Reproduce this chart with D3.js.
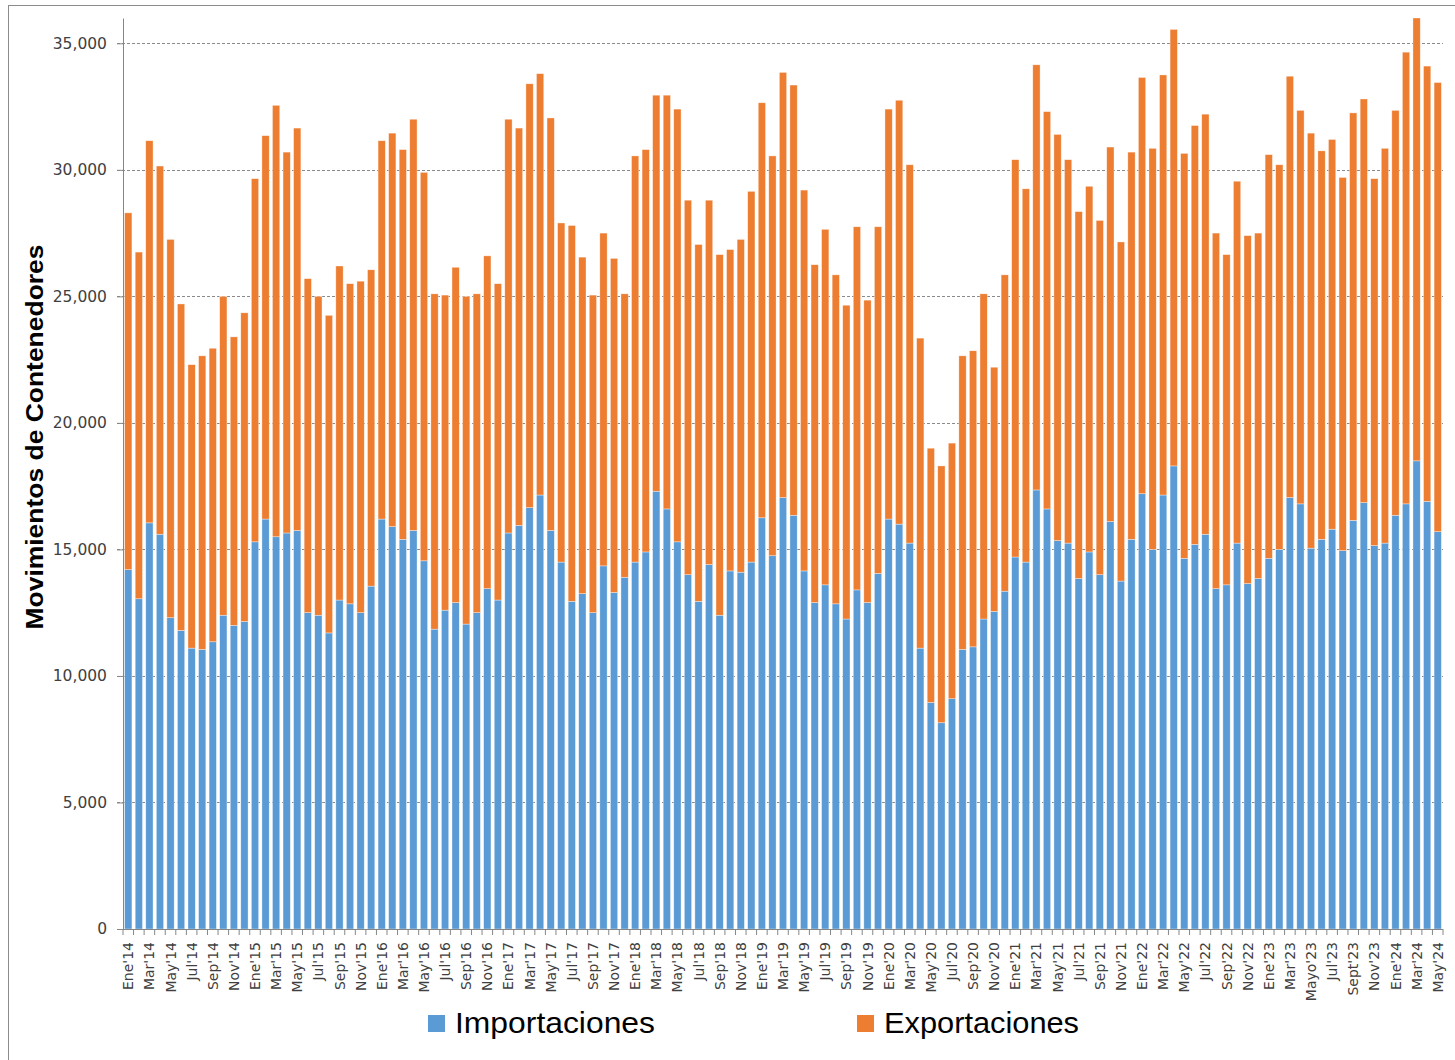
<!DOCTYPE html>
<html>
<head>
<meta charset="utf-8">
<script src="https://cdn.jsdelivr.net/npm/d3@7"></script>
<style>
	body{margin:0;background:#fff;}
	svg{display:block;font-family:'DejaVu Sans',sans-serif;}
</style>
</head>
<body>
<svg id="chart" width="1455" height="1060"></svg>
<script>
const months = [
	"Ene'14","Feb'14","Mar'14","Abr'14","May'14","Jun'14","Jul'14","Ago'14","Sep'14","Oct'14","Nov'14","Dic'14",
	"Ene'15","Feb'15","Mar'15","Abr'15","May'15","Jun'15","Jul'15","Ago'15","Sep'15","Oct'15","Nov'15","Dic'15",
	"Ene'16","Feb'16","Mar'16","Abr'16","May'16","Jun'16","Jul'16","Ago'16","Sep'16","Oct'16","Nov'16","Dic'16",
	"Ene'17","Feb'17","Mar'17","Abr'17","May'17","Jun'17","Jul'17","Ago'17","Sep'17","Oct'17","Nov'17","Dic'17",
	"Ene'18","Feb'18","Mar'18","Abr'18","May'18","Jun'18","Jul'18","Ago'18","Sep'18","Oct'18","Nov'18","Dic'18",
	"Ene'19","Feb'19","Mar'19","Abr'19","May'19","Jun'19","Jul'19","Ago'19","Sep'19","Oct'19","Nov'19","Dic'19",
	"Ene'20","Feb'20","Mar'20","Abr'20","May'20","Jun'20","Jul'20","Ago'20","Sep'20","Oct'20","Nov'20","Dic'20",
	"Ene'21","Feb'21","Mar'21","Abr'21","May'21","Jun'21","Jul'21","Ago'21","Sep'21","Oct'21","Nov'21","Dic'21",
	"Ene'22","Feb'22","Mar'22","Abr'22","May'22","Jun'22","Jul'22","Ago'22","Sep'22","Oct'22","Nov'22","Dic'22",
	"Ene'23","Feb'23","Mar'23","Abr'23","Mayo'23","Jun'23","Jul'23","Ago'23","Sept'23","Oct'23","Nov'23","Dic'23",
	"Ene'24","Feb'24","Mar'24","Abr'24","May'24"
]

const importaciones = [
	14200,13050,16050,15600,12300,11800,11100,11050,11350,12400,12000,12150,
	15300,16200,15500,15650,15750,12500,12400,11700,13000,12850,12500,13550,
	16200,15900,15400,15750,14550,11850,12600,12900,12050,12500,13450,13000,
	15650,15950,16650,17150,15750,14500,12950,13250,12500,14350,13300,13900,
	14500,14900,17300,16600,15300,14000,12950,14400,12400,14150,14100,14500,
	16250,14750,17050,16350,14150,12900,13600,12850,12250,13400,12900,14050,
	16200,16000,15250,11100,8950,8150,9100,11050,11150,12250,12550,13350,
	14700,14500,17350,16600,15350,15250,13850,14900,14000,16100,13750,15400,
	17200,15000,17150,18300,14650,15200,15600,13450,13600,15250,13650,13850,
	14650,15000,17050,16800,15050,15400,15800,14950,16150,16850,15150,15250,
	16350,16800,18500,16900,15700
]

const exportaciones = [
	14100,13700,15100,14550,14950,12900,11200,11600,11600,12600,11400,12200,
	14350,15150,17050,15050,15900,13200,12600,12550,13200,12650,13100,12500,
	14950,15550,15400,16250,15350,13250,12450,13250,12950,12600,13150,12500,
	16350,15700,16750,16650,16300,13400,14850,13300,12550,13150,13200,11200,
	16050,15900,15650,16350,17100,14800,14100,14400,14250,12700,13150,14650,
	16400,15800,16800,17000,15050,13350,14050,13000,12400,14350,11950,13700,
	16200,16750,14950,12250,10050,10150,10100,11600,11700,12850,9650,12500,
	15700,14750,16800,15700,16050,15150,14500,14450,14000,14800,13400,15300,
	16450,15850,16600,17250,16000,16550,16600,14050,13050,14300,13750,13650,
	15950,15200,16650,15550,16400,15350,15400,14750,16100,15950,14500,15600,
	16000,17850,17500,17200,17750
]

const yTicks = [0,5000,10000,15000,20000,25000,30000,35000]
const series = ['Importaciones','Exportaciones']
const colors = ['#5b9bd5','#ed7d31']

const margin = {top:18, right:12, bottom:131, left:123}
const width = 1455 - margin.left - margin.right
const height = 1060 - margin.top - margin.bottom

const svg = d3.select('#chart')

//outer chart border
svg.append('rect')
	.attr('x',8.5)
	.attr('y',5.5)
	.attr('width',1460)
	.attr('height',1080)
	.attr('fill','#fff')
	.attr('stroke','#8c8c8c')

const chart = svg.append('g')
	.attr('transform',`translate(${margin.left},${margin.top})`)

const xScale = d3.scaleBand()
	.domain(months)
	.range([0,width])
	.paddingInner(0.31)
	.paddingOuter(0.155)

const yScale = d3.scaleLinear()
	.domain([0,36000])
	.range([height,0])

const rows = months.map((m,i)=>({month:m, Importaciones:importaciones[i], Exportaciones:exportaciones[i]}))
const stacked = d3.stack().keys(series)(rows)

//gridlines
chart.append('g')
	.selectAll('line')
	.data(yTicks.filter(t => t > 0))
	.enter()
	.append('line')
	.attr('x1',-6)
	.attr('x2',width)
	.attr('y1',d => Math.round(yScale(d)) + 0.5)
	.attr('y2',d => Math.round(yScale(d)) + 0.5)
	.attr('stroke','#8a8a8a')
	.attr('stroke-dasharray','3,2')

//bars
chart.append('g')
	.selectAll('g')
	.data(stacked)
	.enter()
	.append('g')
	.attr('fill',(d,i) => colors[i])
	.selectAll('rect')
	.data(d => d)
	.enter()
	.append('rect')
	.attr('x',d => xScale(d.data.month))
	.attr('width',xScale.bandwidth())
	.attr('y',d => yScale(d[1]))
	.attr('height',d => yScale(d[0]) - yScale(d[1]))
	.attr('stroke','#fff')
	.attr('stroke-opacity',0.6)
	.attr('stroke-width',0.6)

//y axis
const axisY = chart.append('g')
	.call(
		d3.axisLeft(yScale)
		.tickValues(yTicks)
		.tickFormat(d3.format(','))
		.tickSize(6)
		.tickPadding(10)
		.tickSizeOuter(0)
	)
axisY.select('.domain').attr('stroke','#868686')
axisY.selectAll('line').attr('stroke','#868686')
axisY.selectAll('text')
	.attr('fill','#404040')
	.attr('font-size','15.5px')
	.attr('font-family','DejaVu Sans')

//x axis: tick marks between categories, labels every 2 months
const step = xScale.step()
const gap = (step - xScale.bandwidth()) / 2

const axisX = chart.append('g')
	.attr('transform',`translate(0,${height})`)

axisX.append('line')
	.attr('x1',0)
	.attr('x2',width)
	.attr('y1',0.5)
	.attr('y2',0.5)
	.attr('stroke','#868686')

axisX.selectAll('.tickmark')
	.data(months.concat(['end']))
	.enter()
	.append('line')
	.classed('tickmark',true)
	.attr('x1',(d,i) => (i < months.length ? xScale(d) - gap : width))
	.attr('x2',(d,i) => (i < months.length ? xScale(d) - gap : width))
	.attr('y1',0)
	.attr('y2',6)
	.attr('stroke','#868686')

axisX.selectAll('.xlabel')
	.data(months.filter((m,i) => i % 2 === 0))
	.enter()
	.append('text')
	.classed('xlabel',true)
	.text(d => d)
	.attr('transform',d => `translate(${xScale(d) + xScale.bandwidth() / 2},13) rotate(-90)`)
	.attr('text-anchor','end')
	.attr('dy','0.36em')
	.attr('font-size','14px')
	.attr('fill','#404040')

//y title
svg.append('text')
	.text('Movimientos de Contenedores')
	.attr('transform','translate(43,437) rotate(-90)')
	.attr('text-anchor','middle')
	.attr('font-family','Liberation Sans')
	.attr('font-weight','bold')
	.attr('font-size','24px')
	.attr('textLength',385)
	.attr('lengthAdjust','spacingAndGlyphs')
	.attr('fill','#000')

//legend
const legendX = [428,857]
const legendW = [200,195]
const legend = svg.append('g')
	.selectAll('g')
	.data(series)
	.enter()
	.append('g')
	.attr('transform',(d,i) => `translate(${legendX[i]},1015)`)

legend.append('rect')
	.attr('width',17)
	.attr('height',17)
	.attr('fill',(d,i) => colors[i])

legend.append('text')
	.text(d => d)
	.attr('x',27)
	.attr('y',18)
	.attr('font-family','Liberation Sans')
	.attr('font-size','29px')
	.attr('textLength',(d,i) => legendW[i])
	.attr('lengthAdjust','spacingAndGlyphs')
	.attr('fill','#000')
</script>
</body>
</html>
